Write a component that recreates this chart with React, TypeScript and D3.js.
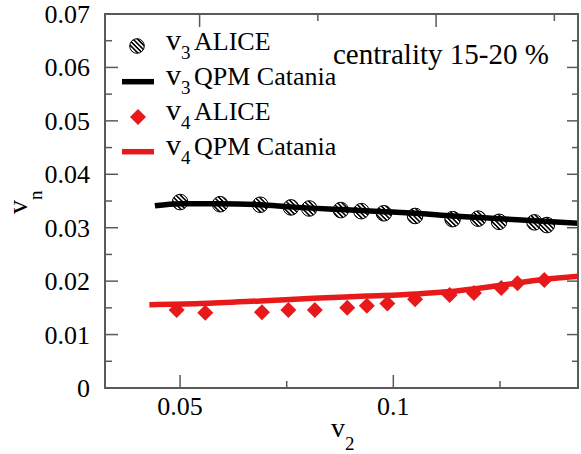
import React from "react";
import * as d3 from "d3";

const v3AliceX = [0.05, 0.0594, 0.0688, 0.0760, 0.0803, 0.0877, 0.0925, 0.0978, 0.1051, 0.1139, 0.1199, 0.1248, 0.1331, 0.1360];
const v3AliceY = [0.0348, 0.0344, 0.0343, 0.0338, 0.0336, 0.0333, 0.0331, 0.0327, 0.0322, 0.0316, 0.0317, 0.0311, 0.0310, 0.0305];

const v3QpmX = [0.0441, 0.05, 0.0594, 0.0688, 0.0760, 0.0877, 0.0978, 0.1051, 0.1139, 0.1199, 0.1248, 0.1331, 0.1437];
const v3QpmY = [0.0341, 0.0345, 0.0345, 0.0343, 0.0339, 0.0334, 0.0330, 0.0327, 0.0322, 0.0319, 0.0317, 0.0313, 0.0308];

const v4AliceX = [0.0492, 0.0559, 0.0692, 0.0754, 0.0816, 0.0892, 0.0938, 0.0986, 0.1051, 0.1132, 0.1189, 0.1253, 0.1291, 0.1354];
const v4AliceY = [0.0146, 0.0141, 0.0142, 0.0146, 0.0146, 0.0150, 0.0154, 0.0158, 0.0166, 0.0174, 0.0178, 0.0187, 0.0196, 0.0202];

const v4QpmX = [0.0428, 0.0547, 0.0688, 0.0813, 0.0938, 0.1055, 0.1125, 0.1250, 0.1352, 0.1433];
const v4QpmY = [0.0156, 0.0158, 0.0163, 0.0168, 0.0172, 0.0176, 0.0180, 0.0192, 0.0203, 0.0209];

const xMajorTicks = [0.05, 0.1];
const xMinorTicks = [0.075, 0.125];
const xTickLabels = ["0.05", "0.1"];
const yMajorTicks = [0, 0.01, 0.02, 0.03, 0.04, 0.05, 0.06, 0.07];
const yMinorTicks = [0.005, 0.015, 0.025, 0.035, 0.045, 0.055, 0.065];
const yTickLabels = ["0", "0.01", "0.02", "0.03", "0.04", "0.05", "0.06", "0.07"];

const W = 581, H = 454;
const L = 105, R = 578, T = 14, B = 388;
const AX = "#5a5a5a";
const RED = "#e8191b";

export default function App() {
  const ref = React.useRef<SVGSVGElement>(null);
  const x = d3.scaleLinear().domain([0.0324, 0.1433]).range([L, R]);
  const xTop = d3.scaleLinear().domain([0.03, 0.13]).range([L, R]);
  const y = d3.scaleLinear().domain([0, 0.07]).range([B, T]);

  React.useEffect(() => {
    const svg = d3.select(ref.current);
    svg.selectAll("*").remove();
    svg.attr("width", W).attr("height", H);

    const defs = svg.append("defs");
    const pat = defs.append("pattern").attr("id", "hatch").attr("patternUnits", "userSpaceOnUse")
      .attr("width", 3.2).attr("height", 3.2).attr("patternTransform", "rotate(45)");
    pat.append("rect").attr("width", 3.2).attr("height", 3.2).attr("fill", "#fff");
    pat.append("rect").attr("width", 3.2).attr("height", 1.6).attr("fill", "#000");
    defs.append("clipPath").attr("id", "plotclip").append("rect")
      .attr("x", L).attr("y", T).attr("width", R - L).attr("height", B - T);

    const diamond = d3.symbol().type(d3.symbolSquare).size(128);

    svg.append("g").selectAll("circle").data(v3AliceX).join("circle")
      .attr("cx", (d) => x(d)).attr("cy", (_, i) => y(v3AliceY[i])).attr("r", 7.8)
      .attr("fill", "url(#hatch)").attr("stroke", "#000").attr("stroke-width", 1);

    svg.append("g").selectAll("path").data(v4AliceX).join("path")
      .attr("d", diamond as any)
      .attr("transform", (d, i) => `translate(${x(d)},${y(v4AliceY[i])}) rotate(45)`)
      .attr("fill", RED);

    const line = d3.line<number>().x((d) => x(d)).curve(d3.curveMonotoneX);
    const gl = svg.append("g").attr("clip-path", "url(#plotclip)");
    gl.append("path").attr("d", line.y((_, i) => y(v3QpmY[i]))(v3QpmX))
      .attr("fill", "none").attr("stroke", "#000").attr("stroke-width", 5.5);
    gl.append("path").attr("d", line.y((_, i) => y(v4QpmY[i]))(v4QpmX))
      .attr("fill", "none").attr("stroke", RED).attr("stroke-width", 5.5);

    svg.append("rect").attr("x", L).attr("y", T).attr("width", R - L).attr("height", B - T)
      .attr("fill", "none").attr("stroke", AX).attr("stroke-width", 2);

    const gt = svg.append("g").attr("stroke", AX).attr("stroke-width", 1.5);
    const maj = 13, min = 7;
    yMajorTicks.forEach((t) => {
      gt.append("line").attr("x1", L).attr("x2", L + maj).attr("y1", y(t)).attr("y2", y(t));
      gt.append("line").attr("x1", R).attr("x2", R - 11).attr("y1", y(t)).attr("y2", y(t));
    });
    yMinorTicks.forEach((t) => {
      gt.append("line").attr("x1", L).attr("x2", L + min).attr("y1", y(t)).attr("y2", y(t));
      gt.append("line").attr("x1", R).attr("x2", R - 6).attr("y1", y(t)).attr("y2", y(t));
    });
    xMajorTicks.forEach((t) => {
      gt.append("line").attr("x1", x(t)).attr("x2", x(t)).attr("y1", B).attr("y2", B - maj);
      gt.append("line").attr("x1", xTop(t)).attr("x2", xTop(t)).attr("y1", T).attr("y2", T + maj);
    });
    xMinorTicks.forEach((t) => {
      gt.append("line").attr("x1", x(t)).attr("x2", x(t)).attr("y1", B).attr("y2", B - min);
      gt.append("line").attr("x1", xTop(t)).attr("x2", xTop(t)).attr("y1", T).attr("y2", T + min);
    });

    const txt = (sel: any) => sel.attr("font-family", "Liberation Serif").attr("fill", "#000");

    yMajorTicks.forEach((t, i) => {
      txt(svg.append("text")).attr("x", 90).attr("y", y(t) + 9).attr("text-anchor", "end")
        .attr("font-size", 26).text(yTickLabels[i]);
    });
    xMajorTicks.forEach((t, i) => {
      txt(svg.append("text")).attr("x", x(t)).attr("y", 415).attr("text-anchor", "middle")
        .attr("font-size", 26).text(xTickLabels[i]);
    });

    const xl = txt(svg.append("text")).attr("x", 331).attr("y", 437).attr("font-size", 28);
    xl.append("tspan").text("v");
    xl.append("tspan").attr("dy", 13).attr("font-size", 19).text("2");

    const yl = txt(svg.append("text")).attr("transform", "translate(27,214) rotate(-90)").attr("font-size", 28);
    yl.append("tspan").text("v");
    yl.append("tspan").attr("dy", 15).attr("font-size", 19).text("n");

    svg.append("circle").attr("cx", 137).attr("cy", 46).attr("r", 7.3)
      .attr("fill", "url(#hatch)").attr("stroke", "#000").attr("stroke-width", 1);
    svg.append("line").attr("x1", 122).attr("x2", 154).attr("y1", 81.7).attr("y2", 81.7)
      .attr("stroke", "#000").attr("stroke-width", 5.5);
    svg.append("path").attr("d", diamond as any).attr("transform", "translate(138,117) rotate(45)").attr("fill", RED);
    svg.append("line").attr("x1", 122).attr("x2", 154).attr("y1", 151.7).attr("y2", 151.7)
      .attr("stroke", RED).attr("stroke-width", 5.5);

    const rows = [
      { sub: "3", label: "ALICE", yb: 50 },
      { sub: "3", label: "QPM Catania", yb: 85 },
      { sub: "4", label: "ALICE", yb: 120 },
      { sub: "4", label: "QPM Catania", yb: 155 },
    ];
    rows.forEach((r) => {
      const t = txt(svg.append("text")).attr("y", r.yb).attr("font-size", 26);
      t.append("tspan").attr("x", 166).attr("font-size", 30).text("v");
      t.append("tspan").attr("dy", 9).attr("font-size", 19).text(r.sub);
      t.append("tspan").attr("x", 194).attr("dy", -9).text(r.label);
    });

    txt(svg.append("text")).attr("x", 333).attr("y", 64).attr("font-size", 29).text("centrality 15-20 %");
  }, []);

  return (
    <div style={{ position: "absolute", left: 0, top: 0, width: W, height: H, background: "#fff" }}>
      <svg ref={ref} width={W} height={H} />
    </div>
  );
}
